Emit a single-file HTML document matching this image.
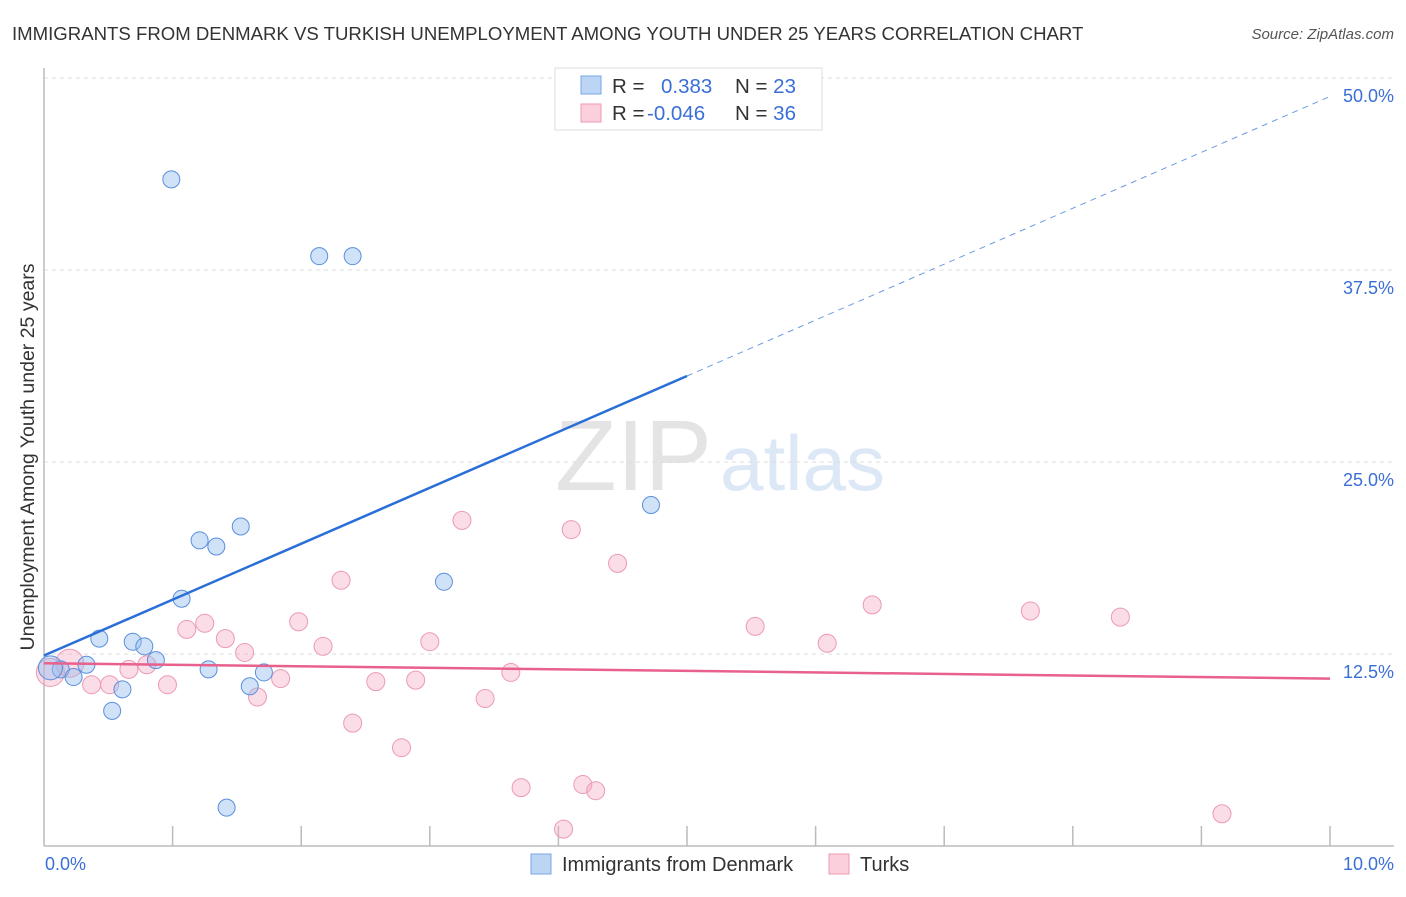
<!DOCTYPE html>
<html><head><meta charset="utf-8"><style>
body{margin:0;background:#fff;font-family:"Liberation Sans",sans-serif;}
svg text{font-family:"Liberation Sans",sans-serif;}
</style></head><body>
<svg id="chart" width="1406" height="892">
<text x="12" y="40" font-size="18.6" fill="#333">IMMIGRANTS FROM DENMARK VS TURKISH UNEMPLOYMENT AMONG YOUTH UNDER 25 YEARS CORRELATION CHART</text>
<text x="1394" y="39" font-size="15" fill="#555" font-style="italic" text-anchor="end">Source: ZipAtlas.com</text>
<g><text x="555" y="490" font-size="100" fill="#e4e4e4" font-family="Liberation Serif" textLength="157" lengthAdjust="spacingAndGlyphs">ZIP</text><text x="720" y="490" font-size="78" fill="#dde8f7" textLength="165" lengthAdjust="spacingAndGlyphs">atlas</text></g>
<g id="grid"></g>
<line x1="44" y1="68" x2="44" y2="846" stroke="#bbb" stroke-width="1.5"/>
<line x1="44" y1="846" x2="1394" y2="846" stroke="#bbb" stroke-width="1.5"/>
<g id="ticks"></g>
<text transform="translate(34,457) rotate(-90)" font-size="19.5" fill="#333" text-anchor="middle">Unemployment Among Youth under 25 years</text>
<text x="45" y="870" font-size="18" fill="#3a6fd8">0.0%</text>
<text x="1394" y="870" font-size="18" fill="#3a6fd8" text-anchor="end">10.0%</text>
<g id="pts"></g>
<g id="lines"></g>
<g>
<rect x="555" y="68" width="267" height="62" fill="#fff" stroke="#ddd"/>
<rect x="581" y="76" width="20" height="18" fill="#bcd5f5" stroke="#7aa6e6"/>
<rect x="581" y="104" width="20" height="18" fill="#fbd0dc" stroke="#ec9ab2"/>
<text x="612" y="93" font-size="20.5" fill="#333">R = <tspan x="661" fill="#3a6fd8">0.383</tspan><tspan x="735">N = </tspan><tspan fill="#3a6fd8">23</tspan></text>
<text x="612" y="120" font-size="20.5" fill="#333">R = <tspan x="647" fill="#3a6fd8">-0.046</tspan><tspan x="735">N = </tspan><tspan fill="#3a6fd8">36</tspan></text>
</g>
<g>
<rect x="531" y="854" width="20" height="20" fill="#bcd5f5" stroke="#7aa6e6"/>
<text x="562" y="871" font-size="20" fill="#333">Immigrants from Denmark</text>
<rect x="829" y="854" width="20" height="20" fill="#fbd0dc" stroke="#ec9ab2"/>
<text x="860" y="871" font-size="20" fill="#333">Turks</text>
</g>
</svg>
<script>
const yTicks=[12.5,25,37.5,50];
const yTickLabels=["12.5%","25.0%","37.5%","50.0%"];
const xTicks=[1,2,3,4,5,6,7,8,9,10];
const blueX=[0.99,2.14,2.40,4.72,1.53,1.21,1.34,3.11,1.07,0.43,0.69,0.78,0.87,0.33,0.13,0.23,1.28,1.71,1.60,0.61,0.53,1.42,0.05];
const blueY=[43.4,38.4,38.4,22.2,20.8,19.9,19.5,17.2,16.1,13.5,13.3,13.0,12.1,11.8,11.5,11.0,11.5,11.3,10.4,10.2,8.8,2.5,11.6];
const pinkX=[3.25,4.10,4.46,2.31,6.44,7.67,8.37,1.98,1.25,1.11,5.53,1.41,3.00,6.09,2.17,1.56,0.80,0.66,0.20,3.63,1.84,2.58,2.89,0.37,0.51,0.96,1.66,3.43,2.40,2.78,3.71,4.19,4.29,4.04,9.16,0.05];
const pinkY=[21.2,20.6,18.4,17.3,15.7,15.3,14.9,14.6,14.5,14.1,14.3,13.5,13.3,13.2,13.0,12.6,11.8,11.5,11.9,11.3,10.9,10.7,10.8,10.5,10.5,10.5,9.7,9.6,8.0,6.4,3.8,4.0,3.6,1.1,2.1,11.3];
const blueTrend=[12.4,3.64];  // intercept, slope
const pinkTrend=[11.9,-0.1];
const NS="http://www.w3.org/2000/svg";
const sx=v=>44+v*128.6, sy=v=>846-v*15.36;
function mk(tag,attrs,parent){const e=document.createElementNS(NS,tag);for(const k in attrs)e.setAttribute(k,attrs[k]);parent.appendChild(e);return e;}
const grid=document.getElementById('grid'),ticks=document.getElementById('ticks'),pts=document.getElementById('pts'),lines=document.getElementById('lines');
yTicks.forEach((t,i)=>{
 const l=mk('line',{x1:44,x2:1394,y1:sy(t),y2:sy(t),stroke:'#ddd','stroke-dasharray':'4,4'},grid);
 
 
 const tx=mk('text',{x:1394,y:sy(t)+24,'font-size':18,fill:'#3a6fd8','text-anchor':'end'},ticks);
 tx.textContent=yTickLabels[i];
 
 
});
xTicks.forEach(t=>{
 const l=mk('line',{x1:sx(t),x2:sx(t),y1:826,y2:846,stroke:'#bbb','stroke-width':1.5},ticks);
 
 
});
pinkX.forEach((x,i)=>{
 const big=i===pinkX.length-1||i===18;
 const c=mk('circle',{cx:sx(x),cy:sy(pinkY[i]),r:big?14:9,fill:'rgba(246,170,194,0.4)',stroke:'#ec9ab2','stroke-width':1},pts);
 
 
});
blueX.forEach((x,i)=>{
 const big=i===blueX.length-1;
 const c=mk('circle',{cx:sx(x),cy:sy(blueY[i]),r:big?12:8.5,fill:'rgba(150,190,240,0.45)',stroke:'#5b8fdc','stroke-width':1},pts);
 
 
});
const bl=mk('line',{x1:sx(0),y1:sy(blueTrend[0]),x2:sx(5),y2:sy(blueTrend[0]+5*blueTrend[1]),stroke:'#2a6fd8','stroke-width':2.5},lines);


const bd=mk('line',{x1:sx(5),y1:sy(blueTrend[0]+5*blueTrend[1]),x2:sx(10),y2:sy(blueTrend[0]+10*blueTrend[1]),stroke:'#6a9be0','stroke-width':1,'stroke-dasharray':'6,5'},lines);


const pl=mk('line',{x1:sx(0),y1:sy(pinkTrend[0]),x2:sx(10),y2:sy(pinkTrend[0]+10*pinkTrend[1]),stroke:'#e8608c','stroke-width':2.5},lines);


</script>
</body></html>
